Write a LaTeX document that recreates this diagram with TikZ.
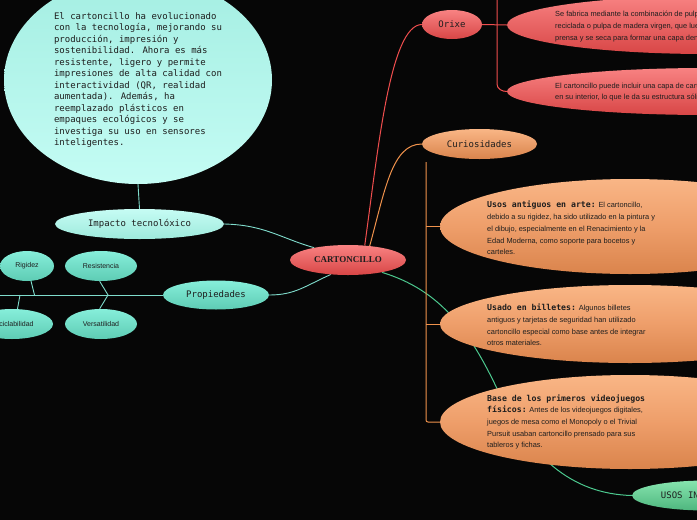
\documentclass[tikz,border=0pt]{standalone}
\usepackage{fontspec}
\setmainfont{Liberation Sans}
\newfontfamily\monofont{DejaVu Sans Mono}
\newfontfamily\seriffont{Liberation Serif}
\usetikzlibrary{shapes.geometric,backgrounds}
\definecolor{bg}{HTML}{060606}
\definecolor{tealtop}{HTML}{86EEDA}
\definecolor{tealbot}{HTML}{5ECCB4}
\definecolor{palettop}{HTML}{C6FCF4}
\definecolor{palebot}{HTML}{9EEADC}
\definecolor{bubtop}{HTML}{A4EEE2}
\definecolor{bubbot}{HTML}{C4FCF4}
\definecolor{redtop}{HTML}{F88282}
\definecolor{redbot}{HTML}{D84646}
\definecolor{ortop}{HTML}{F9B686}
\definecolor{ormid}{HTML}{EE9E6A}
\definecolor{orbot}{HTML}{DA844C}
\definecolor{grtop}{HTML}{86E4AE}
\definecolor{grbot}{HTML}{4EB67E}
\definecolor{tealline}{HTML}{7FDCCC}
\definecolor{redline}{HTML}{F04E4E}
\definecolor{orline}{HTML}{F0924C}
\definecolor{grline}{HTML}{4CC88E}
\definecolor{txt}{HTML}{1E1E1E}
\tikzset{
  blob/.style={ellipse, inner sep=0pt, text=txt},
  tealblob/.style={blob, top color=tealtop, bottom color=tealbot},
  paleblob/.style={blob, top color=palettop, bottom color=palebot},
  redblob/.style={blob, top color=redtop, bottom color=redbot},
  orblob/.style={blob, top color=ortop, bottom color=orbot, middle color=ormid},
  grblob/.style={blob, top color=grtop, bottom color=grbot},
  monolabel/.style={font=\monofont\fontsize{9}{11}\selectfont},
  smalllabel/.style={font=\fontsize{7}{8}\selectfont},
  bodytext/.style={inner sep=0pt, anchor=west, align=left, text=txt, font=\fontsize{7.4}{11.7}\selectfont},
  tline/.style={draw=tealline, line width=0.9pt},
  rline/.style={draw=redline, line width=1pt},
  oline/.style={draw=orline, line width=1pt},
  gline/.style={draw=grline, line width=1pt},
}
\newcommand{\hd}[1]{{\monofont\bfseries\fontsize{8.2}{11.7}\selectfont #1}}
\begin{document}
\begin{tikzpicture}[x=1pt,y=-1pt]
\useasboundingbox (0,0) rectangle (697,520);
\begin{scope}[on background layer]
\fill[bg] (0,0) rectangle (697,520);
\end{scope}

% nodes
\node[blob, top color=bubtop, bottom color=bubbot, minimum width=268pt, minimum height=208pt,
      align=left, font=\monofont\fontsize{9}{11.45}\selectfont] (bub) at (138,80)
{El cartoncillo ha evolucionado\\
con la tecnología, mejorando su\\
producción, impresión y\\
sostenibilidad. Ahora es más\\
resistente, ligero y permite\\
impresiones de alta calidad con\\
interactividad (QR, realidad\\
aumentada). Además, ha\\
reemplazado plásticos en\\
empaques ecológicos y se\\
investiga su uso en sensores\\
inteligentes.};

\node[paleblob, monolabel, minimum width=169pt, minimum height=30pt] (imp) at (139.5,224) {Impacto tecnolóxico};
\node[redblob, minimum width=116pt, minimum height=30pt, font=\seriffont\bfseries\fontsize{9}{10}\selectfont] (cart) at (348,260) {CARTONCILLO};
\node[tealblob, monolabel, minimum width=106pt, minimum height=29pt] (prop) at (216,295) {Propiedades};
\node[tealblob, smalllabel, minimum width=54pt, minimum height=30pt] (rig) at (27,266) {Rigidez};
\node[tealblob, smalllabel, minimum width=72pt, minimum height=30pt] (res) at (101,266) {Resistencia};
\node[tealblob, smalllabel, minimum width=82pt, minimum height=30pt] (rec) at (12,324) {Reciclabilidad};
\node[tealblob, smalllabel, minimum width=72pt, minimum height=30pt] (ver) at (101,324) {Versatilidad};

\node[redblob, monolabel, minimum width=60pt, minimum height=29pt] (ox) at (452,24.5) {Orixe};
\node[redblob, minimum width=400pt, minimum height=58pt] (r1) at (707,25) {};
\node[bodytext] (r1t) at (555,26.5) {Se fabrica mediante la combinación de pulpa de papel\\
reciclada o pulpa de madera virgen, que luego se\\
prensa y se seca para formar una capa densa y resistente.};
\node[redblob, minimum width=400pt, minimum height=47pt] (r2) at (707,91.5) {};
\node[bodytext] (r2t) at (555,92) {El cartoncillo puede incluir una capa de cartón\\
en su interior, lo que le da su estructura sólida.};

\node[orblob, monolabel, minimum width=115pt, minimum height=30pt, top color=ortop, bottom color=orbot] (cur) at (479.5,144) {Curiosidades};

\begin{scope}[on background layer]
\draw[gline] (cart.-20) .. controls (440,290) and (470,330) .. (500,395)
  .. controls (530,455) and (570,494) .. (632,495.5);
\end{scope}

\node[orblob, minimum width=380pt, minimum height=95pt] (o1) at (630,226.5) {};
\node[bodytext] (o1t) at (487,228) {\hd{Usos antiguos en arte:} El cartoncillo,\\
debido a su rigidez, ha sido utilizado en la pintura y\\
el dibujo, especialmente en el Renacimiento y la\\
Edad Moderna, como soporte para bocetos y\\
carteles.};
\node[orblob, minimum width=380pt, minimum height=78pt] (o2) at (630,324) {};
\node[bodytext] (o2t) at (487,325) {\hd{Usado en billetes:} Algunos billetes\\
antiguos y tarjetas de seguridad han utilizado\\
cartoncillo especial como base antes de integrar\\
otros materiales.};
\node[orblob, minimum width=380pt, minimum height=94pt] (o3) at (630,422) {};
\node[bodytext] (o3t) at (487,422) {\hd{Base de los primeros videojuegos}\\
\hd{físicos:} Antes de los videojuegos digitales,\\
juegos de mesa como el Monopoly o el Trivial\\
Pursuit usaban cartoncillo prensado para sus\\
tableros y fichas.};

\node[grblob, monolabel, minimum width=150pt, minimum height=30pt] (usos) at (707,495.5) {USOS INDUSTRIALES};

% coordinates
\coordinate (pl) at (0,295);
\coordinate (chevA) at (108,295);
\coordinate (rigA) at (34.5,295);
\coordinate (recA) at (20,295);
\coordinate (cbT) at (426,162);
\coordinate (cb1) at (426,226.5);
\coordinate (cb2) at (426,324);
\coordinate (cb3) at (426,422);
\coordinate (obT) at (497,-6);
\coordinate (ob1) at (497,25);
\coordinate (obB) at (497,84);

\begin{scope}[on background layer]
% teal
\draw[tline] (bub.south) -- (imp.north);
\draw[tline] (imp.east) .. controls (265,225) and (280,238) .. (cart.160);
\draw[tline] (prop.east) .. controls (295,295) and (305,286) .. (cart.-140);
\draw[tline] (prop.west) -- (pl);
\draw[tline] (res.-95) -- (chevA) -- (ver.95);
\draw[tline] (rig.-75) -- (rigA);
\draw[tline] (recA) -- (rec.70);
% red
\draw[rline] (cart.41) .. controls (378,150) and (390,25) .. (ox.west);
\draw[rline] (ox.east) -- (r1.west);
\draw[rline] (obT) -- (obB) to[out=-90,in=180] (r2.west);
% orange
\draw[oline] (cart.33) .. controls (385,190) and (392,144) .. (cur.west);
\draw[oline, rounded corners=2pt] (cbT) -- (cb3) -- (o3.west);
\draw[oline] (cb1) -- (o1.west);
\draw[oline] (cb2) -- (o2.west);
\end{scope}
\end{tikzpicture}
\end{document}
